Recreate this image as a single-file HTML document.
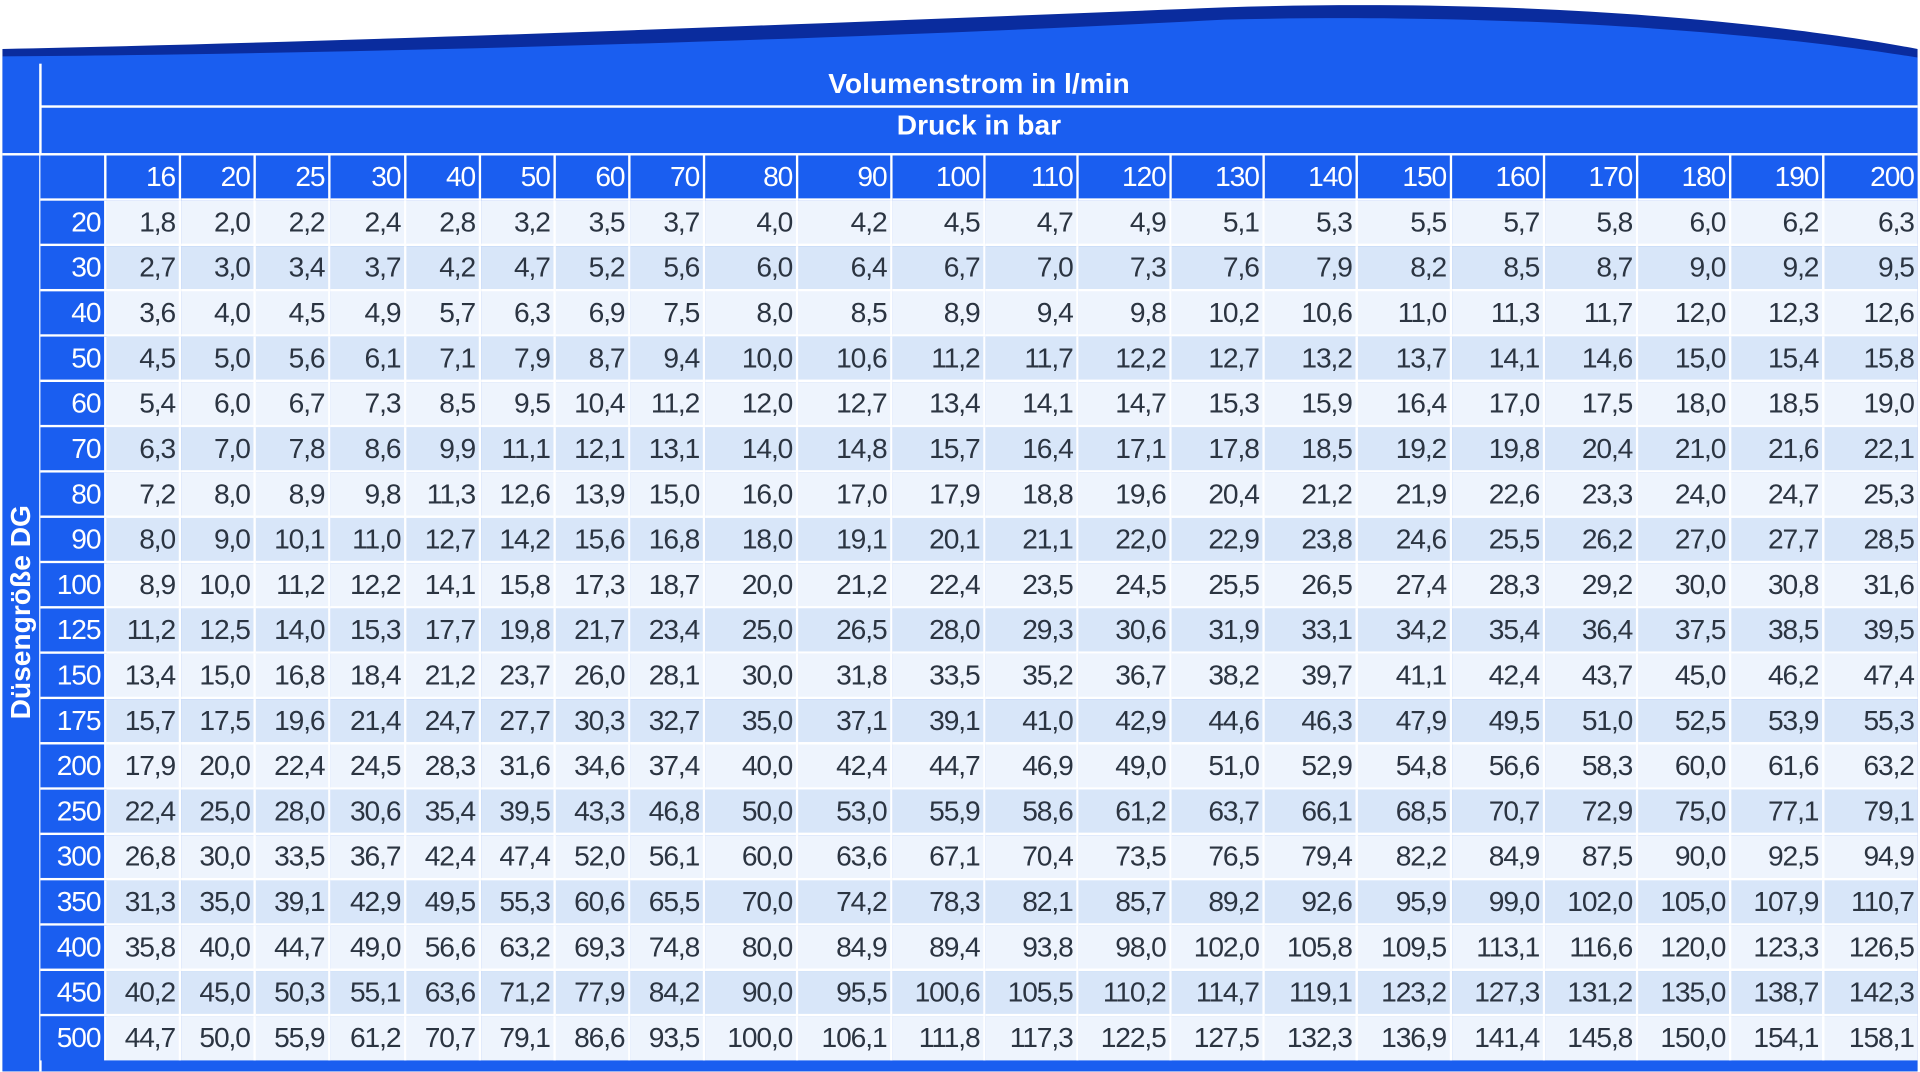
<!DOCTYPE html>
<html><head><meta charset="utf-8"><style>
html,body{margin:0;padding:0;background:#fff;}
body{width:1920px;height:1072px;overflow:hidden;position:relative;}
#w{position:absolute;left:0;top:0;width:1568px;height:875px;transform:scale(1.22449);transform-origin:0 0;font-family:"Liberation Sans",sans-serif;}
#bg{position:absolute;left:0;top:0;}
.t1,.t2{position:absolute;left:33px;width:1533px;text-align:center;color:#fff;font-weight:bold;font-size:23px;}
.t1{top:55px}.t2{top:89px}
#vt{position:absolute;left:17px;top:500px;transform:translate(-50%,-50%) rotate(-90deg);color:#fff;font-weight:bold;font-size:23px;white-space:nowrap;}
table{position:absolute;left:33px;top:127px;width:1533px;border-collapse:separate;border-spacing:0;table-layout:fixed;}
td{border-right:2px solid #fff;border-bottom:2px solid #fff;text-align:right;padding:0 3px 0 0;font-size:23px;letter-spacing:-0.9px;color:#2b3441;height:35.9px;line-height:35px;overflow:hidden;white-space:nowrap;box-sizing:border-box;}
tr.h td{background:#1a5ef0;color:#fff;height:34px;border-top:0;}
td.l{background:#1a5ef0;color:#fff;}
tr.a td{background:#eef4fd}
tr.b td{background:#d8e6f9}
tr.a td.l,tr.b td.l{background:#1a5ef0}
tr:last-child td{border-bottom:0}
td:last-child{border-right:0}
</style></head><body><div id="w">
<svg id="bg" width="1568" height="875">
<path d="M2 40 C300 34 700 18 1000 6 C1250 -2 1450 18 1566 40 L1566 875 L2 875 Z" fill="#0a2c9e"/>
<path d="M2 46 C300 44 700 32 1000 16 C1250 10 1450 28 1566 47 L1566 875 L2 875 Z" fill="#1a5ef0"/>
<rect x="32" y="52" width="2" height="823" fill="#fff"/>
<rect x="33" y="86" width="1533" height="2" fill="#fff"/>
<rect x="2" y="125" width="1564" height="2" fill="#fff"/>
</svg>
<div class="t1">Volumenstrom in l/min</div>
<div class="t2">Druck in bar</div>
<div id="vt">Düsengröße DG</div>
<table>
<colgroup><col style="width:54px"><col style="width:61px"><col style="width:61px"><col style="width:61px"><col style="width:62px"><col style="width:61px"><col style="width:61px"><col style="width:61px"><col style="width:61px"><col style="width:76px"><col style="width:77px"><col style="width:76px"><col style="width:76px"><col style="width:76px"><col style="width:76px"><col style="width:76px"><col style="width:77px"><col style="width:76px"><col style="width:76px"><col style="width:76px"><col style="width:76px"></colgroup>
<tr class="h"><td></td><td>16</td><td>20</td><td>25</td><td>30</td><td>40</td><td>50</td><td>60</td><td>70</td><td>80</td><td>90</td><td>100</td><td>110</td><td>120</td><td>130</td><td>140</td><td>150</td><td>160</td><td>170</td><td>180</td><td>190</td><td>200</td></tr>
<tr class="a"><td class="l">20</td><td>1,8</td><td>2,0</td><td>2,2</td><td>2,4</td><td>2,8</td><td>3,2</td><td>3,5</td><td>3,7</td><td>4,0</td><td>4,2</td><td>4,5</td><td>4,7</td><td>4,9</td><td>5,1</td><td>5,3</td><td>5,5</td><td>5,7</td><td>5,8</td><td>6,0</td><td>6,2</td><td>6,3</td></tr>
<tr class="b"><td class="l">30</td><td>2,7</td><td>3,0</td><td>3,4</td><td>3,7</td><td>4,2</td><td>4,7</td><td>5,2</td><td>5,6</td><td>6,0</td><td>6,4</td><td>6,7</td><td>7,0</td><td>7,3</td><td>7,6</td><td>7,9</td><td>8,2</td><td>8,5</td><td>8,7</td><td>9,0</td><td>9,2</td><td>9,5</td></tr>
<tr class="a"><td class="l">40</td><td>3,6</td><td>4,0</td><td>4,5</td><td>4,9</td><td>5,7</td><td>6,3</td><td>6,9</td><td>7,5</td><td>8,0</td><td>8,5</td><td>8,9</td><td>9,4</td><td>9,8</td><td>10,2</td><td>10,6</td><td>11,0</td><td>11,3</td><td>11,7</td><td>12,0</td><td>12,3</td><td>12,6</td></tr>
<tr class="b"><td class="l">50</td><td>4,5</td><td>5,0</td><td>5,6</td><td>6,1</td><td>7,1</td><td>7,9</td><td>8,7</td><td>9,4</td><td>10,0</td><td>10,6</td><td>11,2</td><td>11,7</td><td>12,2</td><td>12,7</td><td>13,2</td><td>13,7</td><td>14,1</td><td>14,6</td><td>15,0</td><td>15,4</td><td>15,8</td></tr>
<tr class="a"><td class="l">60</td><td>5,4</td><td>6,0</td><td>6,7</td><td>7,3</td><td>8,5</td><td>9,5</td><td>10,4</td><td>11,2</td><td>12,0</td><td>12,7</td><td>13,4</td><td>14,1</td><td>14,7</td><td>15,3</td><td>15,9</td><td>16,4</td><td>17,0</td><td>17,5</td><td>18,0</td><td>18,5</td><td>19,0</td></tr>
<tr class="b"><td class="l">70</td><td>6,3</td><td>7,0</td><td>7,8</td><td>8,6</td><td>9,9</td><td>11,1</td><td>12,1</td><td>13,1</td><td>14,0</td><td>14,8</td><td>15,7</td><td>16,4</td><td>17,1</td><td>17,8</td><td>18,5</td><td>19,2</td><td>19,8</td><td>20,4</td><td>21,0</td><td>21,6</td><td>22,1</td></tr>
<tr class="a"><td class="l">80</td><td>7,2</td><td>8,0</td><td>8,9</td><td>9,8</td><td>11,3</td><td>12,6</td><td>13,9</td><td>15,0</td><td>16,0</td><td>17,0</td><td>17,9</td><td>18,8</td><td>19,6</td><td>20,4</td><td>21,2</td><td>21,9</td><td>22,6</td><td>23,3</td><td>24,0</td><td>24,7</td><td>25,3</td></tr>
<tr class="b"><td class="l">90</td><td>8,0</td><td>9,0</td><td>10,1</td><td>11,0</td><td>12,7</td><td>14,2</td><td>15,6</td><td>16,8</td><td>18,0</td><td>19,1</td><td>20,1</td><td>21,1</td><td>22,0</td><td>22,9</td><td>23,8</td><td>24,6</td><td>25,5</td><td>26,2</td><td>27,0</td><td>27,7</td><td>28,5</td></tr>
<tr class="a"><td class="l">100</td><td>8,9</td><td>10,0</td><td>11,2</td><td>12,2</td><td>14,1</td><td>15,8</td><td>17,3</td><td>18,7</td><td>20,0</td><td>21,2</td><td>22,4</td><td>23,5</td><td>24,5</td><td>25,5</td><td>26,5</td><td>27,4</td><td>28,3</td><td>29,2</td><td>30,0</td><td>30,8</td><td>31,6</td></tr>
<tr class="b"><td class="l">125</td><td>11,2</td><td>12,5</td><td>14,0</td><td>15,3</td><td>17,7</td><td>19,8</td><td>21,7</td><td>23,4</td><td>25,0</td><td>26,5</td><td>28,0</td><td>29,3</td><td>30,6</td><td>31,9</td><td>33,1</td><td>34,2</td><td>35,4</td><td>36,4</td><td>37,5</td><td>38,5</td><td>39,5</td></tr>
<tr class="a"><td class="l">150</td><td>13,4</td><td>15,0</td><td>16,8</td><td>18,4</td><td>21,2</td><td>23,7</td><td>26,0</td><td>28,1</td><td>30,0</td><td>31,8</td><td>33,5</td><td>35,2</td><td>36,7</td><td>38,2</td><td>39,7</td><td>41,1</td><td>42,4</td><td>43,7</td><td>45,0</td><td>46,2</td><td>47,4</td></tr>
<tr class="b"><td class="l">175</td><td>15,7</td><td>17,5</td><td>19,6</td><td>21,4</td><td>24,7</td><td>27,7</td><td>30,3</td><td>32,7</td><td>35,0</td><td>37,1</td><td>39,1</td><td>41,0</td><td>42,9</td><td>44,6</td><td>46,3</td><td>47,9</td><td>49,5</td><td>51,0</td><td>52,5</td><td>53,9</td><td>55,3</td></tr>
<tr class="a"><td class="l">200</td><td>17,9</td><td>20,0</td><td>22,4</td><td>24,5</td><td>28,3</td><td>31,6</td><td>34,6</td><td>37,4</td><td>40,0</td><td>42,4</td><td>44,7</td><td>46,9</td><td>49,0</td><td>51,0</td><td>52,9</td><td>54,8</td><td>56,6</td><td>58,3</td><td>60,0</td><td>61,6</td><td>63,2</td></tr>
<tr class="b"><td class="l">250</td><td>22,4</td><td>25,0</td><td>28,0</td><td>30,6</td><td>35,4</td><td>39,5</td><td>43,3</td><td>46,8</td><td>50,0</td><td>53,0</td><td>55,9</td><td>58,6</td><td>61,2</td><td>63,7</td><td>66,1</td><td>68,5</td><td>70,7</td><td>72,9</td><td>75,0</td><td>77,1</td><td>79,1</td></tr>
<tr class="a"><td class="l">300</td><td>26,8</td><td>30,0</td><td>33,5</td><td>36,7</td><td>42,4</td><td>47,4</td><td>52,0</td><td>56,1</td><td>60,0</td><td>63,6</td><td>67,1</td><td>70,4</td><td>73,5</td><td>76,5</td><td>79,4</td><td>82,2</td><td>84,9</td><td>87,5</td><td>90,0</td><td>92,5</td><td>94,9</td></tr>
<tr class="b"><td class="l">350</td><td>31,3</td><td>35,0</td><td>39,1</td><td>42,9</td><td>49,5</td><td>55,3</td><td>60,6</td><td>65,5</td><td>70,0</td><td>74,2</td><td>78,3</td><td>82,1</td><td>85,7</td><td>89,2</td><td>92,6</td><td>95,9</td><td>99,0</td><td>102,0</td><td>105,0</td><td>107,9</td><td>110,7</td></tr>
<tr class="a"><td class="l">400</td><td>35,8</td><td>40,0</td><td>44,7</td><td>49,0</td><td>56,6</td><td>63,2</td><td>69,3</td><td>74,8</td><td>80,0</td><td>84,9</td><td>89,4</td><td>93,8</td><td>98,0</td><td>102,0</td><td>105,8</td><td>109,5</td><td>113,1</td><td>116,6</td><td>120,0</td><td>123,3</td><td>126,5</td></tr>
<tr class="b"><td class="l">450</td><td>40,2</td><td>45,0</td><td>50,3</td><td>55,1</td><td>63,6</td><td>71,2</td><td>77,9</td><td>84,2</td><td>90,0</td><td>95,5</td><td>100,6</td><td>105,5</td><td>110,2</td><td>114,7</td><td>119,1</td><td>123,2</td><td>127,3</td><td>131,2</td><td>135,0</td><td>138,7</td><td>142,3</td></tr>
<tr class="a"><td class="l">500</td><td>44,7</td><td>50,0</td><td>55,9</td><td>61,2</td><td>70,7</td><td>79,1</td><td>86,6</td><td>93,5</td><td>100,0</td><td>106,1</td><td>111,8</td><td>117,3</td><td>122,5</td><td>127,5</td><td>132,3</td><td>136,9</td><td>141,4</td><td>145,8</td><td>150,0</td><td>154,1</td><td>158,1</td></tr>
</table>
</div></body></html>
